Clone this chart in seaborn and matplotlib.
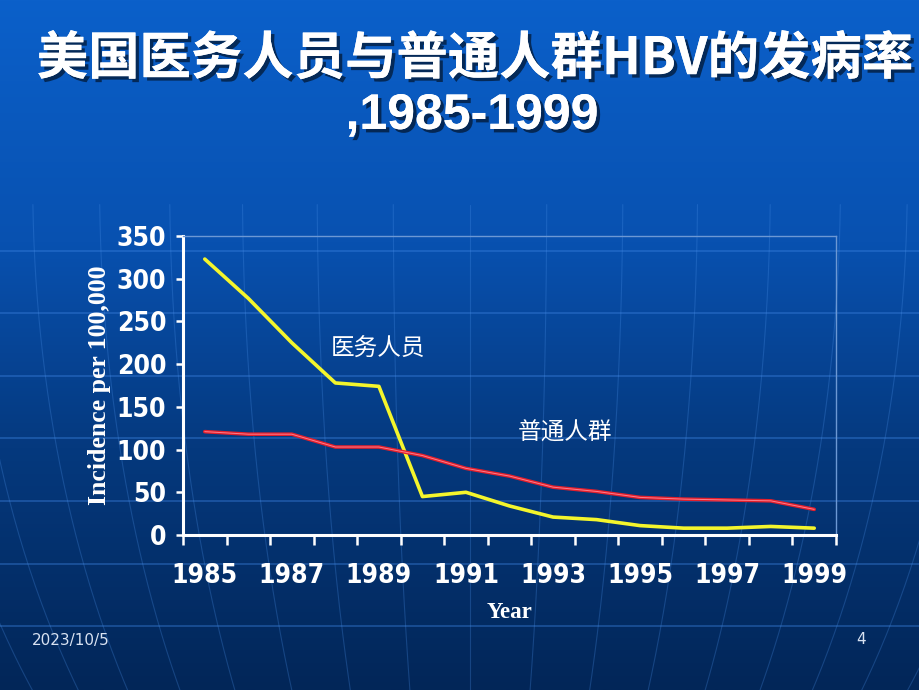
import numpy as np
import pandas as pd
import matplotlib
matplotlib.use('Agg')
import matplotlib.pyplot as plt
import matplotlib.patheffects as pe
from matplotlib.colors import LinearSegmentedColormap
import seaborn as sns

# data
years = list(range(1985, 2000))
hcw = [323, 277, 225, 178, 174, 45, 50, 34, 21, 18, 11, 8, 8, 10, 8]          # 医务人员
general = [121, 118, 118, 103, 103, 93, 78, 69, 56, 51, 44, 42, 41, 40, 30]   # 普通人群
groups = ['医务人员', '普通人群']
yticks = [0, 50, 100, 150, 200, 250, 300, 350]

df = pd.DataFrame({
    'year': years * 2,
    'incidence': hcw + general,
    'group': [groups[0]] * len(years) + [groups[1]] * len(years),
})

sns.set_style('ticks')
plt.rcParams['font.family'] = ['Noto Sans CJK SC', 'DejaVu Sans']

fig = plt.figure(figsize=(9.2, 6.9), dpi=100)

# slide background: blue gradient with faint globe lines
bg = fig.add_axes([0, 0, 1, 1])
cmap = LinearSegmentedColormap.from_list(
    'slide', [(0.0, '#0B60CA'), (0.35, '#0851B0'), (0.65, '#05397E'), (1.0, '#022658')])
grad = np.linspace(0, 1, 256).reshape(-1, 1)
bg.imshow(grad, cmap=cmap, extent=[0, 920, 690, 0], aspect='auto', zorder=0)
for yy in [251, 313, 376, 438, 501, 564, 626]:
    bg.plot([0, 920], [yy, yy], color='#3C82E0', lw=1.2, alpha=0.45, zorder=1)
cx, cy, R = 470, 180, 820
lat = np.linspace(-np.pi / 2, -0.03, 200)
for th in np.linspace(-0.75, 0.75, 17):
    xs = cx + R * np.sin(th) * np.cos(lat)
    ys = cy - R * np.sin(lat)
    bg.plot(xs, ys, color='#4A90E8', lw=0.8, alpha=0.28, zorder=1)
bg.set_xlim(0, 920)
bg.set_ylim(690, 0)
bg.axis('off')

# chart
ax = fig.add_axes([183 / 920, 1 - 535 / 690, 653 / 920, 299 / 690])
ax.set_facecolor('none')
sns.lineplot(data=df, x='year', y='incidence', hue='group',
             palette={groups[0]: '#F4F52C', groups[1]: '#E3202C'},
             linewidth=2.6, legend=False, ax=ax)
sns.lineplot(x=years, y=general, color='#FF7C8C', linewidth=0.7, ax=ax)

ax.set_xlim(1984.5, 1999.5)
ax.set_ylim(0, 350)
ax.set_xticks(np.arange(1984.5, 2000, 1))
ax.set_xticklabels([])
ax.set_xticks(years[::2], minor=True)
ax.set_xticklabels([str(y) for y in years[::2]], minor=True)
ax.set_yticks(yticks)
ax.set_yticklabels([str(v) for v in yticks])

tick_font = ['Liberation Sans Narrow', 'DejaVu Sans']
for lab in ax.get_xticklabels(minor=True) + ax.get_yticklabels():
    lab.set_family(tick_font)
    lab.set_fontstretch('condensed')
    lab.set_fontweight('bold')
    lab.set_fontsize(19)
    lab.set_color('white')

ax.tick_params(axis='x', which='major', length=7, width=1.8, color='white', direction='out')
ax.tick_params(axis='x', which='minor', length=0, pad=20)
ax.tick_params(axis='y', which='major', length=5, width=1.8, color='white', direction='out', pad=7)

for s in ['left', 'bottom']:
    ax.spines[s].set_color('white')
    ax.spines[s].set_linewidth(2.2)
for s in ['top', 'right']:
    ax.spines[s].set_color('#6C98D4')
    ax.spines[s].set_linewidth(1.0)

ax.set_ylabel('Incidence per 100,000', family='Liberation Serif', fontweight='bold',
              fontsize=18.5, color='white')
ax.yaxis.set_label_coords(-0.11, 0.5)
ax.set_xlabel('Year', family='Liberation Serif', fontweight='bold', fontsize=16.5, color='white')
ax.xaxis.set_label_coords(0.5, -0.225)

ax.text(1987.9, 218, groups[0], color='white', fontsize=17, ha='left', va='center')
ax.text(1992.2, 119, groups[1], color='white', fontsize=17, ha='left', va='center')

# slide title with drop shadow
shadow = [pe.withSimplePatchShadow(offset=(2.5, -2.5), shadow_rgbFace='black', alpha=0.55), pe.Normal()]
fig.text(0.516, 0.915, '美国医务人员与普通人群HBV的发病率', color='white', fontsize=37,
         fontweight='bold', ha='center', va='center', path_effects=shadow)
fig.text(0.513, 0.832, ',1985-1999', color='white', fontsize=36,
         family=['Liberation Sans'], fontweight='bold', ha='center', va='center', path_effects=shadow)

# footer
fig.text(32 / 920, 1 - 640 / 690, '2023/10/5', color='#D8E2F2', fontsize=11,
         family=tick_font, ha='left', va='center')
fig.text(861 / 920, 1 - 640 / 690, '4', color='#D8E2F2', fontsize=11,
         family=tick_font, ha='center', va='center')

fig.savefig('out.png', dpi=100)
